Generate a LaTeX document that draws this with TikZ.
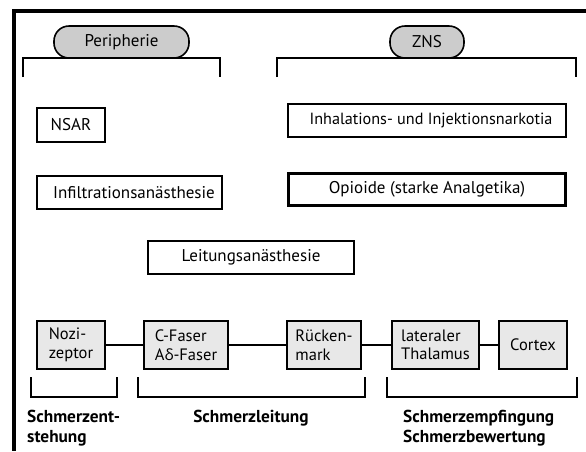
\documentclass[tikz,border=0pt]{standalone}
\usepackage{fontspec}
\setmainfont{PT Sans}
\newfontfamily\grkfont{Open Sans}
\begin{document}
\begin{tikzpicture}[x=1pt,y=-1pt,
  box/.style={draw,line width=1.6pt,inner sep=0pt,font=\fontsize{17}{19}\selectfont},
  gbox/.style={draw,line width=1.6pt,inner sep=0pt,fill=black!9,align=left,font=\fontsize{16.5}{18.5}\selectfont},
  pill/.style={draw,line width=1.6pt,fill=black!20,rounded corners=15pt,inner sep=0pt,font=\fontsize{17}{19}\selectfont},
  brk/.style={line width=2.3pt},
  lab/.style={font=\bfseries\fontsize{17.3}{20}\selectfont,align=left,inner sep=0pt},
  frame/.style={line width=3.2pt},
  conn/.style={line width=1.5pt}]
\useasboundingbox (0,0) rectangle (586,451);
% frame
\coordinate (fr1) at (586,11);
\coordinate (fr2) at (14,11);
\coordinate (fr3) at (14,451);
\draw[frame] (fr1) -- (fr2) -- (fr3);
% top brackets
\coordinate (b1a) at (23,77);\coordinate (b1b) at (23,58);\coordinate (b1c) at (220,58);\coordinate (b1d) at (220,77);
\draw[brk] (b1a) -- (b1b) -- (b1c) -- (b1d);
\coordinate (b2a) at (277,77);\coordinate (b2b) at (277,58);\coordinate (b2c) at (576,58);\coordinate (b2d) at (576,77);
\draw[brk] (b2a) -- (b2b) -- (b2c) -- (b2d);
% pills
\node[pill,minimum width=135pt,minimum height=32pt] (per) at (121.5,42) {Peripherie};
\node[pill,minimum width=74pt,minimum height=32pt] (zns) at (427,42) {ZNS};
% drug boxes
\node[box,minimum width=68pt,minimum height=34pt] (nsar) at (71,125) {NSAR};
\node[box,minimum width=278pt,minimum height=33pt,font=\fontsize{16.2}{19}\selectfont] (inh) at (427,120.5) {\hspace*{8pt}Inhalations- und Injektionsnarkotia};
\node[box,minimum width=185pt,minimum height=33pt] (inf) at (129.5,192.5) {\hspace*{9pt}Infiltrationsanästhesie};
\node[box,line width=3.2pt,minimum width=277pt,minimum height=32pt] (opi) at (427,189.5) {Opioide (starke Analgetika)};
\node[box,minimum width=206pt,minimum height=33pt] (lei) at (251,257.5) {Leitungsanästhesie};
% pathway boxes
\node[gbox,minimum width=68pt,minimum height=48pt] (noz) at (71,345) {Nozi-\\zeptor};
\node[gbox,minimum width=84pt,minimum height=48pt] (cf) at (186,345) {C-Faser\\A{\grkfont\fontsize{15.5}{18.5}\selectfont δ}-Faser};
\node[gbox,minimum width=74pt,minimum height=48pt] (rm) at (324,345) {Rücken-\\mark};
\node[gbox,minimum width=87pt,minimum height=48pt] (th) at (435.5,345) {lateraler\\Thalamus};
\node[gbox,minimum width=68pt,minimum height=48pt] (cx) at (533,345) {Cortex};
\draw[conn] (noz) -- (cf);
\draw[conn] (cf) -- (rm);
\draw[conn] (rm) -- (th);
\draw[conn] (th) -- (cx);
% bottom brackets
\coordinate (c1a) at (31,377);\coordinate (c1b) at (31,397);\coordinate (c1c) at (117,397);\coordinate (c1d) at (117,377);
\draw[brk] (c1a) -- (c1b) -- (c1c) -- (c1d);
\coordinate (c2a) at (138,377);\coordinate (c2b) at (138,397);\coordinate (c2c) at (365,397);\coordinate (c2d) at (365,377);
\draw[brk] (c2a) -- (c2b) -- (c2c) -- (c2d);
\coordinate (c3a) at (387,377);\coordinate (c3b) at (387,397);\coordinate (c3c) at (577,397);\coordinate (c3d) at (577,377);
\draw[brk] (c3a) -- (c3b) -- (c3c) -- (c3d);
% labels
\node[lab,anchor=north west] (l1) at (27,410) {Schmerzent-\\stehung};
\node[lab,anchor=north] (l2) at (251,410) {Schmerzleitung};
\node[lab,anchor=north west] (l3) at (403,410) {Schmerzempfingung\\Schmerzbewertung};
\end{tikzpicture}
\end{document}
